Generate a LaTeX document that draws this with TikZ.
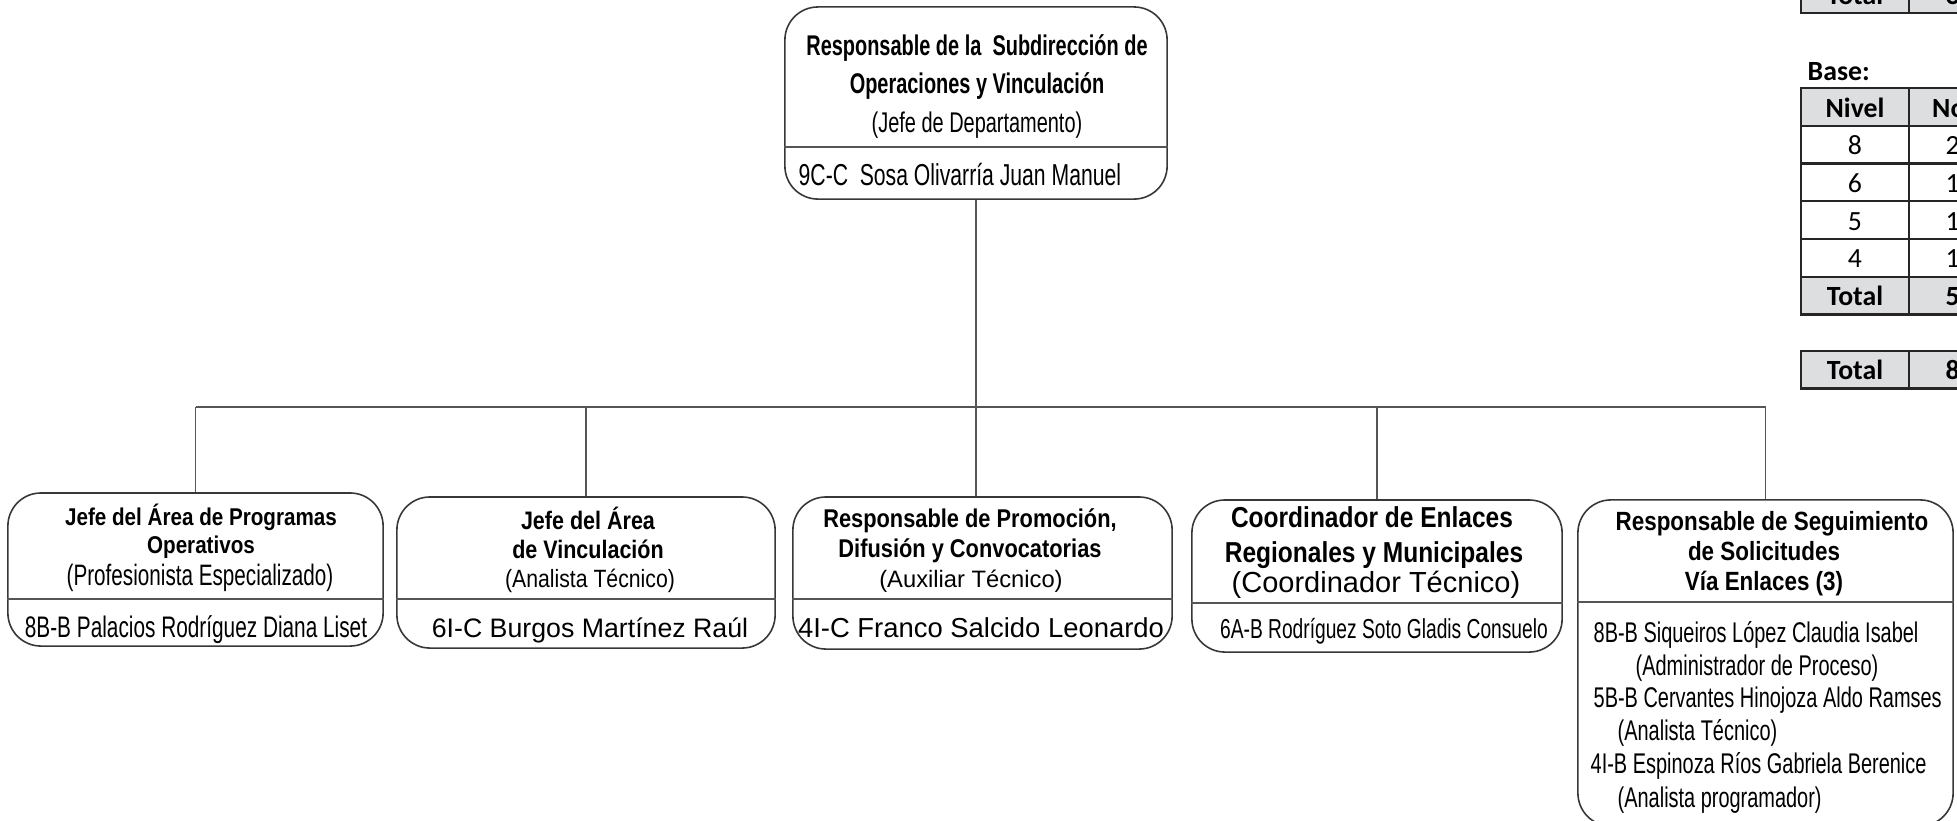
\documentclass[tikz,border=0pt]{standalone}
\usepackage{fontspec}
\setmainfont{Liberation Sans}
\newfontfamily\narrowfont[FakeStretch=0.7]{Liberation Sans}
\newfontfamily\semifont[FakeStretch=0.85]{Liberation Sans}
\newfontfamily\tablefont{Carlito}
\usetikzlibrary{positioning}
\definecolor{cabecera}{RGB}{221,222,223}
\definecolor{linea}{RGB}{55,55,55}
\tikzset{
	caja/.style={draw=linea, line width=0.45pt, rounded corners=0.33cm, inner sep=0pt},
	conector/.style={draw=linea!85, line width=0.45pt},
	texto/.style={anchor=base, inner sep=0pt, font=\fontsize{#1}{#1}\selectfont},
	angosto/.style={anchor=base, inner sep=0pt, font=\narrowfont\fontsize{#1}{#1}\selectfont},
	angostonegrita/.style={anchor=base, inner sep=0pt, font=\narrowfont\bfseries\fontsize{#1}{#1}\selectfont},
	medio/.style={anchor=base, inner sep=0pt, font=\semifont\fontsize{#1}{#1}\selectfont},
	medionegrita/.style={anchor=base, inner sep=0pt, font=\semifont\bfseries\fontsize{#1}{#1}\selectfont},
	celda/.style={draw=black!85, line width=0.65pt, inner sep=0pt, outer sep=0pt,
			minimum height=0.377cm, text height=0.2cm, text depth=0pt,
			font=\tablefont\fontsize{7.9pt}{7.9pt}\selectfont},
	gris/.style={fill=cabecera, font=\tablefont\bfseries\fontsize{7.9pt}{7.9pt}\selectfont}
}

\begin{document}
\begin{tikzpicture}[x=0.01cm, y=-0.01cm]
	\useasboundingbox (0,0) rectangle (1957,820);
	\clip (0,0) rectangle (1957,820);

	% subdireccion
	\node[caja, minimum width=3.82cm, minimum height=1.92cm] (jefe) at (976,103) {};
	\node[angostonegrita=8.1pt] (jefe-1) at (977,55) {Responsable de la~ Subdirección de};
	\node[angostonegrita=8.1pt] (jefe-2) at (977,93) {Operaciones y Vinculación};
	\node[angosto=8.1pt] (jefe-3) at (977,132) {(Jefe de Departamento)};
	\node[angosto=8.6pt, anchor=base west] (jefe-4) at (798,185) {9C-C~ Sosa Olivarría Juan Manuel};
	\draw[conector] (jefe.west |- 0,147) -- (jefe.east |- 0,147);

	% areas
	\node[caja, minimum width=3.75cm, minimum height=1.53cm] (programas) at (195.5,569.5) {};
	\node[medionegrita=6.9pt] (programas-1) at (201,525) {Jefe del Área de Programas};
	\node[medionegrita=6.9pt] (programas-2) at (201,553) {Operativos};
	\node[angosto=8.4pt] (programas-3) at (200,585) {(Profesionista Especializado)};
	\node[angosto=8.45pt] (programas-4) at (196,637) {8B-B Palacios Rodríguez Diana Liset};
	\draw[conector] (programas.west |- 0,599) -- (programas.east |- 0,599);

	\node[caja, minimum width=3.78cm, minimum height=1.51cm] (vinculacion) at (586,572.5) {};
	\node[medionegrita=7.2pt] (vinculacion-1) at (588,529) {Jefe del Área};
	\node[medionegrita=7.2pt] (vinculacion-2) at (588,558) {de Vinculación};
	\node[medio=7.1pt] (vinculacion-3) at (590,587) {(Analista Técnico)};
	\node[texto=7.6pt] (vinculacion-4) at (590,637) {6I-C Burgos Martínez Raúl};
	\draw[conector] (vinculacion.west |- 0,599) -- (vinculacion.east |- 0,599);

	\node[caja, minimum width=3.79cm, minimum height=1.52cm] (promocion) at (982.5,573) {};
	\node[medionegrita=7.3pt] (promocion-1) at (970,527) {Responsable de Promoción,};
	\node[medionegrita=7.3pt] (promocion-2) at (970,557) {Difusión y Convocatorias};
	\node[texto=6.75pt] (promocion-3) at (971,587) {(Auxiliar Técnico)};
	\node[texto=7.8pt] (promocion-4) at (981,637) {4I-C Franco Salcido Leonardo};
	\draw[conector] (promocion.west |- 0,599) -- (promocion.east |- 0,599);

	\node[caja, minimum width=3.70cm, minimum height=1.52cm] (enlaces) at (1377,576) {};
	\node[medionegrita=8.2pt] (enlaces-1) at (1372,527) {Coordinador de Enlaces};
	\node[medionegrita=8.2pt] (enlaces-2) at (1374,562) {Regionales y Municipales};
	\node[texto=8.25pt] (enlaces-3) at (1376,592) {(Coordinador Técnico)};
	\node[angosto=7.8pt] (enlaces-4) at (1384,638) {6A-B Rodríguez Soto Gladis Consuelo};
	\draw[conector] (enlaces.west |- 0,603) -- (enlaces.east |- 0,603);

	\node[caja, minimum width=3.75cm, minimum height=3.26cm] (seguimiento) at (1765.5,663) {};
	\node[medionegrita=7.5pt] (seguimiento-1) at (1772,530) {Responsable de Seguimiento};
	\node[medionegrita=7.5pt] (seguimiento-2) at (1764,560) {de Solicitudes};
	\node[medionegrita=7.5pt] (seguimiento-3) at (1764,590) {Vía Enlaces (3)};
	\node[angosto=8.1pt, anchor=base west] (seguimiento-4) at (1593,642) {8B-B Siqueiros López Claudia Isabel};
	\node[angosto=8.1pt, anchor=base west] (seguimiento-5) at (1635,675) {(Administrador de Proceso)};
	\node[angosto=8.1pt, anchor=base west] (seguimiento-6) at (1593,707) {5B-B Cervantes Hinojoza Aldo Ramses};
	\node[angosto=8.1pt, anchor=base west] (seguimiento-7) at (1617,740) {(Analista Técnico)};
	\node[angosto=8.1pt, anchor=base west] (seguimiento-8) at (1590,773) {4I-B Espinoza Ríos Gabriela Berenice};
	\node[angosto=8.1pt, anchor=base west] (seguimiento-9) at (1617,807) {(Analista programador)};
	\draw[conector] (seguimiento.west |- 0,602) -- (seguimiento.east |- 0,602);

	% lineas de mando
	\coordinate (bus) at (0,407);
	\draw[conector] (jefe.south) -- (jefe.south |- promocion.north);
	\draw[conector] (programas.north |- bus) -- (seguimiento.north |- bus);
	\foreach \n in {programas,vinculacion,enlaces,seguimiento}
		\draw[conector] (\n.north |- bus) -- (\n.north);

	% plazas
	\node[celda, gris, minimum width=1.08cm] (confianza) at (1855,-6) {Total};
	\node[celda, gris, minimum width=0.87cm, right=0pt of confianza] (confianza-num) {3};
	\node[anchor=base west, inner sep=0pt, font=\tablefont\bfseries\fontsize{7.9pt}{7.9pt}\selectfont] (base) at (1807,80) {Base:};
	\node[celda, gris, minimum width=1.08cm] (nivel) at (1855,107) {Nivel};
	\node[celda, gris, minimum width=0.87cm, right=0pt of nivel] (numero) {No.};
	\foreach \niv/\num [count=\i] in {8/2,6/1,5/1,4/1} {
		\node[celda, minimum width=1.08cm] (nivel-\i) at (1855,107+37.7*\i) {\niv};
		\node[celda, minimum width=0.87cm, right=0pt of nivel-\i] (numero-\i) {\num};
	}
	\node[celda, gris, minimum width=1.08cm] (subtotal) at (1855,295.5) {Total};
	\node[celda, gris, minimum width=0.87cm, right=0pt of subtotal] (subtotal-num) {5};
	\node[celda, gris, minimum width=1.08cm] (total) at (1855,369.5) {Total};
	\node[celda, gris, minimum width=0.87cm, right=0pt of total] (total-num) {8};
\end{tikzpicture}
\end{document}
